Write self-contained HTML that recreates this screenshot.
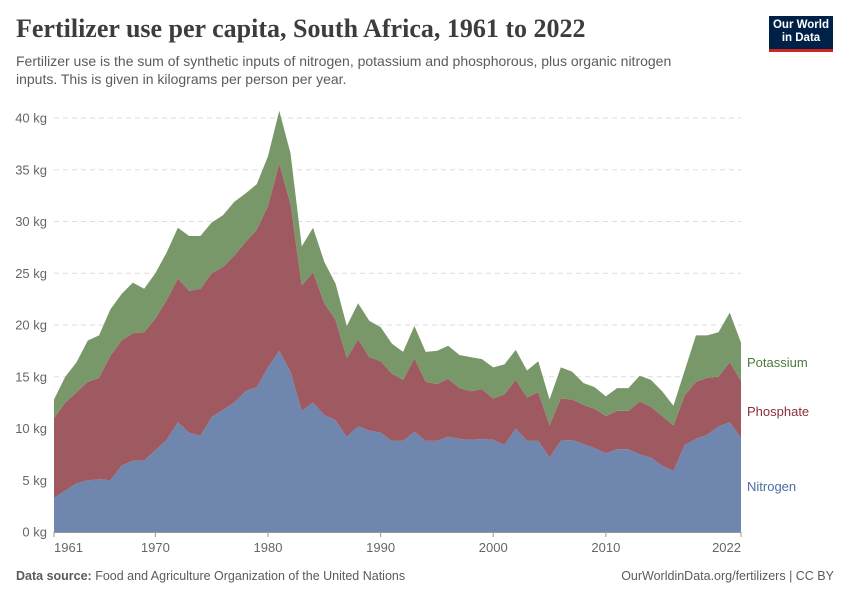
<!DOCTYPE html>
<html><head><meta charset="utf-8"><style>
body{margin:0;background:#fff;font-family:"Liberation Sans",sans-serif;}
#wrap{position:relative;width:850px;height:600px;overflow:hidden}
.title{position:absolute;left:16px;top:14px;font-family:"Liberation Serif",serif;font-size:26px;font-weight:bold;color:#3d3d3d}
.sub{position:absolute;left:16px;top:52px;font-size:14px;line-height:18px;color:#5b5b5b;width:700px}
.foot{position:absolute;top:569px;font-size:12.5px;color:#5b5b5b}
.logo{position:absolute;left:769px;top:16px;width:64px;height:36px;background:#002147;color:#fff;font-size:11.5px;font-weight:bold;text-align:center;line-height:13px;padding-top:3px;box-sizing:border-box;border-bottom:3px solid #ce261e}
</style></head><body><div id="wrap">
<div class="title">Fertilizer use per capita, South Africa, 1961 to 2022</div>
<div class="sub">Fertilizer use is the sum of synthetic inputs of nitrogen, potassium and phosphorous, plus organic nitrogen inputs. This is given in kilograms per person per year.</div>
<div class="logo">Our World<br>in Data</div>
<svg id="chart" width="850" height="600" style="position:absolute;left:0;top:0"></svg>
<div class="foot" style="left:16px"><b>Data source:</b> Food and Agriculture Organization of the United Nations</div>
<div class="foot" style="right:16px">OurWorldinData.org/fertilizers | CC BY</div>
</div>
<script>
const years=[];for(let y=1961;y<=2022;y++)years.push(y);
const nitrogen=[3.3,4.0,4.7,5.0,5.1,5.0,6.4,6.9,6.9,7.9,8.9,10.6,9.6,9.3,11.1,11.8,12.5,13.6,14.0,15.9,17.5,15.5,11.7,12.5,11.3,10.8,9.2,10.2,9.8,9.6,8.8,8.8,9.7,8.8,8.8,9.2,9.0,8.9,9.0,8.9,8.4,10.0,8.8,8.8,7.2,8.8,8.9,8.5,8.1,7.6,8.0,8.0,7.5,7.2,6.4,5.9,8.4,9.0,9.4,10.2,10.6,9.1];
const phosphate=[7.7,8.5,8.8,9.5,9.8,12.0,12.1,12.3,12.4,12.7,13.5,13.9,13.7,14.2,13.9,13.8,14.2,14.4,15.2,15.6,18.1,16.2,12.1,12.6,10.8,9.7,7.6,8.4,7.1,6.9,6.5,5.9,7.1,5.7,5.5,5.6,4.9,4.7,4.8,4.0,4.9,4.7,4.2,4.7,3.1,4.1,3.9,3.8,3.8,3.6,3.7,3.7,5.1,4.9,4.8,4.4,4.8,5.5,5.5,4.8,5.8,5.5];
const potassium=[1.8,2.5,2.9,4.0,4.1,4.5,4.5,4.9,4.2,4.4,4.6,4.9,5.3,5.1,4.9,5.0,5.2,4.7,4.4,4.8,5.1,4.9,3.8,4.3,4.0,3.5,3.1,3.5,3.5,3.3,2.9,2.7,3.1,2.9,3.2,3.2,3.2,3.3,2.9,3.0,2.9,2.9,2.6,3.0,2.5,3.0,2.7,2.1,2.1,1.9,2.2,2.2,2.5,2.6,2.4,1.9,2.4,4.5,4.1,4.3,4.8,3.7];
const yTicks=[0,5,10,15,20,25,30,35,40];
const xTicks=[1961,1970,1980,1990,2000,2010,2022];
const NS="http://www.w3.org/2000/svg";
const svg=document.getElementById('chart');
const x=y=>54+(y-1961)*(741-54)/61;
const yS=v=>532-v*10.35;
function el(t,a,txt){const e=document.createElementNS(NS,t);for(const k in a)e.setAttribute(k,a[k]);if(txt!==undefined)e.textContent=txt;svg.appendChild(e);return e;}
yTicks.forEach(v=>{
 if(v>0){const g=el('line',{x1:54,x2:741,y1:yS(v),y2:yS(v),stroke:'#ddd','stroke-dasharray':'5,4'});
 
 }
 const t=el('text',{x:47,y:yS(v)+4.5,'text-anchor':'end','font-size':13,fill:'#666'},v+' kg');
 
 
});
const series=[{n:'nitrogen',d:nitrogen,c:'#6f87ae'},{n:'phosphate',d:phosphate,c:'#9e5a60'},{n:'potassium',d:potassium,c:'#79986a'}];
let base=years.map(()=>0);
series.forEach(s=>{
 const top=base.map((b,i)=>b+s.d[i]);
 let p='M'+years.map((y,i)=>x(y)+','+yS(top[i])).join('L');
 for(let i=years.length-1;i>=0;i--)p+='L'+x(years[i])+','+yS(base[i]);
 const a=el('path',{d:p+'Z',fill:s.c});
 
 
 base=top;
});
const ax=el('line',{x1:54,x2:741,y1:532.5,y2:532.5,stroke:'#999'});


xTicks.forEach((v,i)=>{
 el('line',{x1:x(v),x2:x(v),y1:532,y2:537,stroke:'#999'});
 const anc=i===0?'start':(i===xTicks.length-1?'end':'middle');
 const t=el('text',{x:x(v),y:552,'text-anchor':anc,'font-size':13,fill:'#666'},v);
 
 
});
[['Potassium',367,'#4c7a3c'],['Phosphate',416,'#8b2f3b'],['Nitrogen',491,'#4b6ea5']].forEach(l=>{
 const t=el('text',{x:747,y:l[1],'font-size':13,fill:l[2]},l[0]);
 
 
});
</script></body></html>
